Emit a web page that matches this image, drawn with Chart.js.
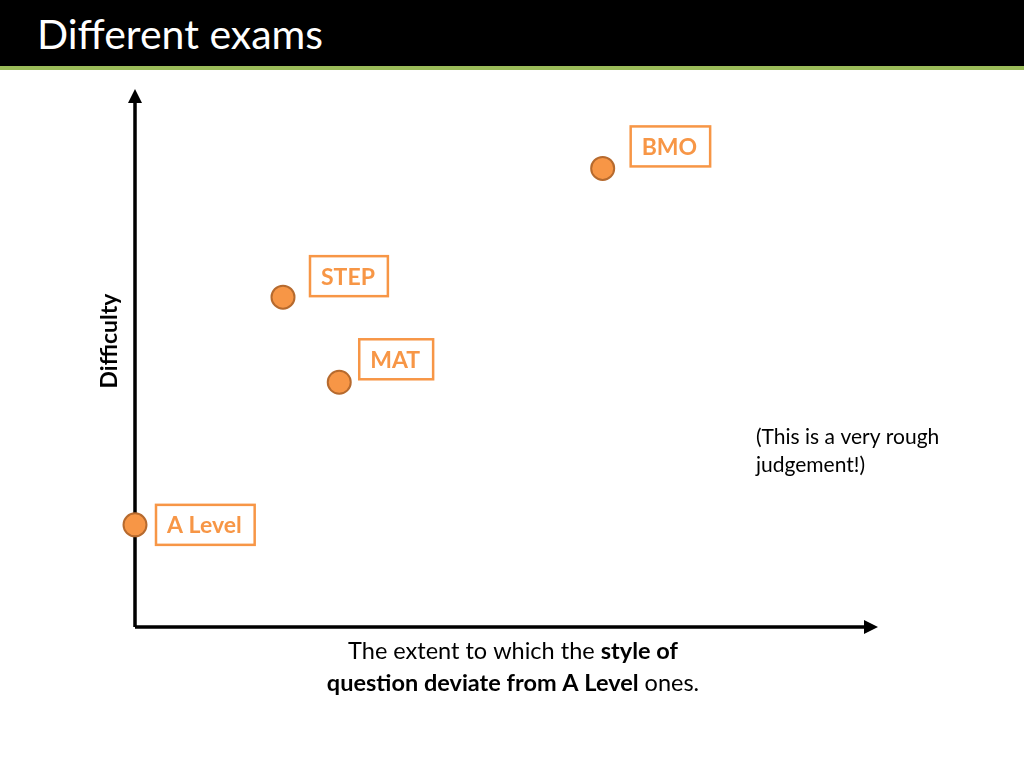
<!DOCTYPE html>
<html><head><meta charset="utf-8">
<script src="https://cdn.jsdelivr.net/npm/chart.js@4"></script>
<style>html,body{margin:0;padding:0;background:#fff}#wrap{position:relative;width:1024px;height:768px}
#hdr{position:absolute;left:0;top:0;width:1024px;height:66px;background:#000;border-bottom:4px solid #9BBB59;box-sizing:content-box}
#hdr span{position:absolute;left:37px;top:9px;color:#fff;font:41px Lato,"Open Sans",sans-serif}
canvas{position:absolute;left:0;top:0}</style></head>
<body><div id="wrap"><div id="hdr"><span>Different exams</span></div><canvas id="c" width="1024" height="768"></canvas></div>
<script>
const exams = ["A Level", "STEP", "MAT", "BMO"];
const deviation = [0, 20, 27.6, 63.2];
const difficulty = [19.2, 62, 46, 86.2];
const labelOffsets = [[21,-20],[27,-41],[20,-43],[28,-42]];
const orange = "#F79646";
const font = 'Lato, "Open Sans", sans-serif';

const deco = {
  id: 'deco',
  afterDatasetsDraw(chart) {
    const ctx = chart.ctx, x = chart.scales.x, y = chart.scales.y;
    const x0 = x.getPixelForValue(0), y0 = y.getPixelForValue(0);
    const x1 = x.getPixelForValue(100), y1 = y.getPixelForValue(100);
    ctx.save();
    ctx.strokeStyle = '#000'; ctx.lineWidth = 3.5; ctx.fillStyle = '#000';
    ctx.beginPath(); ctx.moveTo(x0, y0); ctx.lineTo(x0, y1 + 6); ctx.moveTo(x0, y0); ctx.lineTo(x1 - 6, y0); ctx.stroke();
    ctx.beginPath(); ctx.moveTo(x0, y1 - 6); ctx.lineTo(x0 - 7, y1 + 8); ctx.lineTo(x0 + 7, y1 + 8); ctx.closePath(); ctx.fill();
    ctx.beginPath(); ctx.moveTo(x1 + 3, y0); ctx.lineTo(x1 - 11, y0 - 7); ctx.lineTo(x1 - 11, y0 + 7); ctx.closePath(); ctx.fill();
    const meta = chart.getDatasetMeta(0);
    meta.data.forEach(p => { ctx.beginPath(); ctx.arc(p.x, p.y, 11.5, 0, Math.PI*2); ctx.fillStyle = orange; ctx.fill(); ctx.lineWidth = 2; ctx.strokeStyle = '#B66A2E'; ctx.stroke(); });
    ctx.font = 'bold 23px ' + font; ctx.textBaseline = 'middle';
    meta.data.forEach((p, i) => {
      const w = ctx.measureText(exams[i]).width + 24, h = 40;
      const bx = p.x + labelOffsets[i][0], by = p.y + labelOffsets[i][1];
      ctx.lineWidth = 2.5; ctx.strokeStyle = orange; ctx.strokeRect(bx, by, w, h);
      ctx.fillStyle = orange; ctx.textAlign = 'left'; ctx.fillText(exams[i], bx + 11, by + h/2 + 1);
    });
    ctx.save(); ctx.translate(110, 341); ctx.rotate(-Math.PI/2);
    ctx.fillStyle = '#000'; ctx.font = 'bold 23px ' + font; ctx.textAlign = 'center'; ctx.fillText('Difficulty', 0, 0); ctx.restore();
    const lines = [[['The extent to which the ', false], ['style of', true]], [['question deviate from A Level', true], [' ones.', false]]];
    ctx.fillStyle = '#000'; ctx.textAlign = 'left';
    lines.forEach((ln, k) => {
      let tot = 0; ln.forEach(s => { ctx.font = (s[1] ? 'bold ' : '') + '23.5px ' + font; tot += ctx.measureText(s[0]).width; });
      let cx = 513 - tot/2;
      ln.forEach(s => { ctx.font = (s[1] ? 'bold ' : '') + '23.5px ' + font; ctx.fillText(s[0], cx, 651 + k*32); cx += ctx.measureText(s[0]).width; });
    });
    ctx.font = '21px ' + font;
    ctx.fillText('(This is a very rough', 756, 437); ctx.fillText('judgement!)', 756, 465);
    ctx.restore();
  }
};

new Chart(document.getElementById('c'), {
  type: 'scatter',
  data: { datasets: [{ data: deviation.map((v, i) => ({x: v, y: difficulty[i]})), pointRadius: 0, backgroundColor: orange }] },
  options: {
    responsive: false, animation: false,
    layout: { padding: { left: 135, right: 149, top: 95, bottom: 141 } },
    scales: { x: { display: false, min: 0, max: 100 }, y: { display: false, min: 0, max: 100 } },
    plugins: { legend: { display: false }, tooltip: { enabled: false } }
  },
  plugins: [deco]
});
</script></body></html>
